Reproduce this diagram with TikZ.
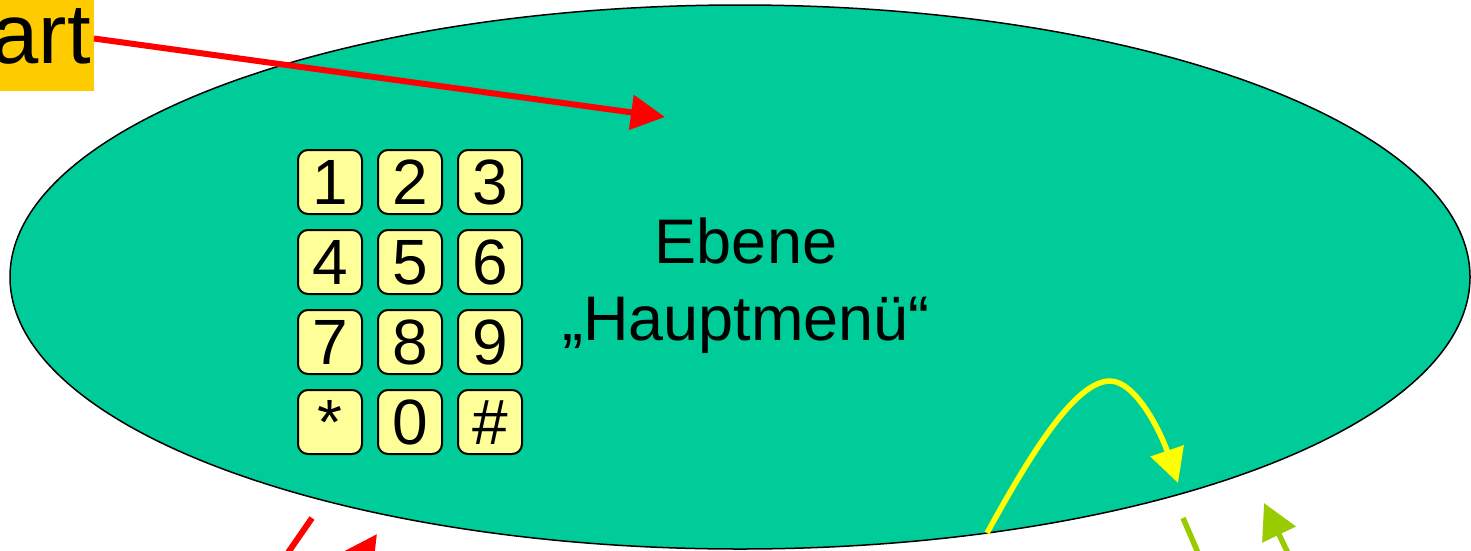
\documentclass[tikz,border=0pt]{standalone}
\usepackage{fontspec}
\setmainfont{Liberation Sans}
\usetikzlibrary{shapes.geometric,arrows.meta}
\definecolor{ellgreen}{RGB}{0,204,153}
\definecolor{startorange}{RGB}{255,204,0}
\definecolor{keyyellow}{RGB}{255,255,153}
\definecolor{arrowyellow}{RGB}{255,255,0}
\definecolor{arrowgreen}{RGB}{153,204,0}
\definecolor{arrowred}{RGB}{255,0,0}
\begin{document}
\begin{tikzpicture}[x=1pt,y=-1pt,
  menuell/.style={ellipse, draw=black, line width=1.5pt, fill=ellgreen,
    minimum width=1460pt, minimum height=544pt, inner sep=0pt},
  startbox/.style={fill=startorange, inner xsep=3pt, inner ysep=0pt,
    text height=63pt, text depth=28pt, font=\fontsize{85}{85}\selectfont},
  titletext/.style={align=center, inner sep=0pt, font=\fontsize{63}{77}\selectfont},
  padkey/.style={draw=black, line width=2pt, fill=keyyellow, rounded corners=10pt,
    minimum width=64pt, minimum height=64pt, inner sep=0pt,
    text height=45pt, text depth=0pt, font=\fontsize{64}{64}\selectfont},
  redarrow/.style={draw=arrowred, line width=6pt, -{Triangle[length=34pt,width=34pt]}},
  redline/.style={draw=arrowred, line width=6pt},
  yellowarrow/.style={draw=arrowyellow, line width=5.5pt, -{Triangle[length=34pt,width=34pt]}},
  greenarrow/.style={draw=arrowgreen, line width=5.5pt, -{Triangle[length=35pt,width=36pt]}},
  greenline/.style={draw=arrowgreen, line width=5.5pt}
]
\useasboundingbox (0,0) rectangle (1471,550);
\clip (0,0) rectangle (1471,550);

\node[menuell] (menu) at (740,277) {};
\node[startbox, anchor=base east] (start) at (94,63) {Start};
\node[titletext] (title) at (746,286) {Ebene\\„Hauptmenü“};

\node[padkey] (k1) at (330,182) {1};
\node[padkey] (k2) at (410,182) {2};
\node[padkey] (k3) at (490,182) {3};
\node[padkey] (k4) at (330,262) {4};
\node[padkey] (k5) at (410,262) {5};
\node[padkey] (k6) at (490,262) {6};
\node[padkey] (k7) at (330,342) {7};
\node[padkey] (k8) at (410,342) {8};
\node[padkey] (k9) at (490,342) {9};
\node[padkey] (kstar) at (330,422) {*};
\node[padkey] (k0) at (410,422) {0};
\node[padkey] (khash) at (490,422) {\#};

% free ends
\coordinate (starttip) at (665,117);
\coordinate (ystart) at (987,533);
\coordinate (ypeak) at (1110,381);
\coordinate (ytip) at (1178,483);
\coordinate (rl1) at (312,518);
\coordinate (rl2) at (276,570);
\coordinate (ra1) at (337,592);
\coordinate (ra2) at (377,534);
\coordinate (gl1) at (1183,518);
\coordinate (gl2) at (1205,569);
\coordinate (ga1) at (1296,570);
\coordinate (ga2) at (1264,503);

\draw[redarrow] ([yshift=7pt]start.east) -- (starttip);
\draw[yellowarrow] (ystart) .. controls (1030,455) and (1075,381) .. (ypeak)
  .. controls (1135,381) and (1160,430) .. (ytip);
\draw[redline] (rl1) -- (rl2);
\draw[redarrow] (ra1) -- (ra2);
\draw[greenline] (gl1) -- (gl2);
\draw[greenarrow] (ga1) -- (ga2);
\end{tikzpicture}
\end{document}
